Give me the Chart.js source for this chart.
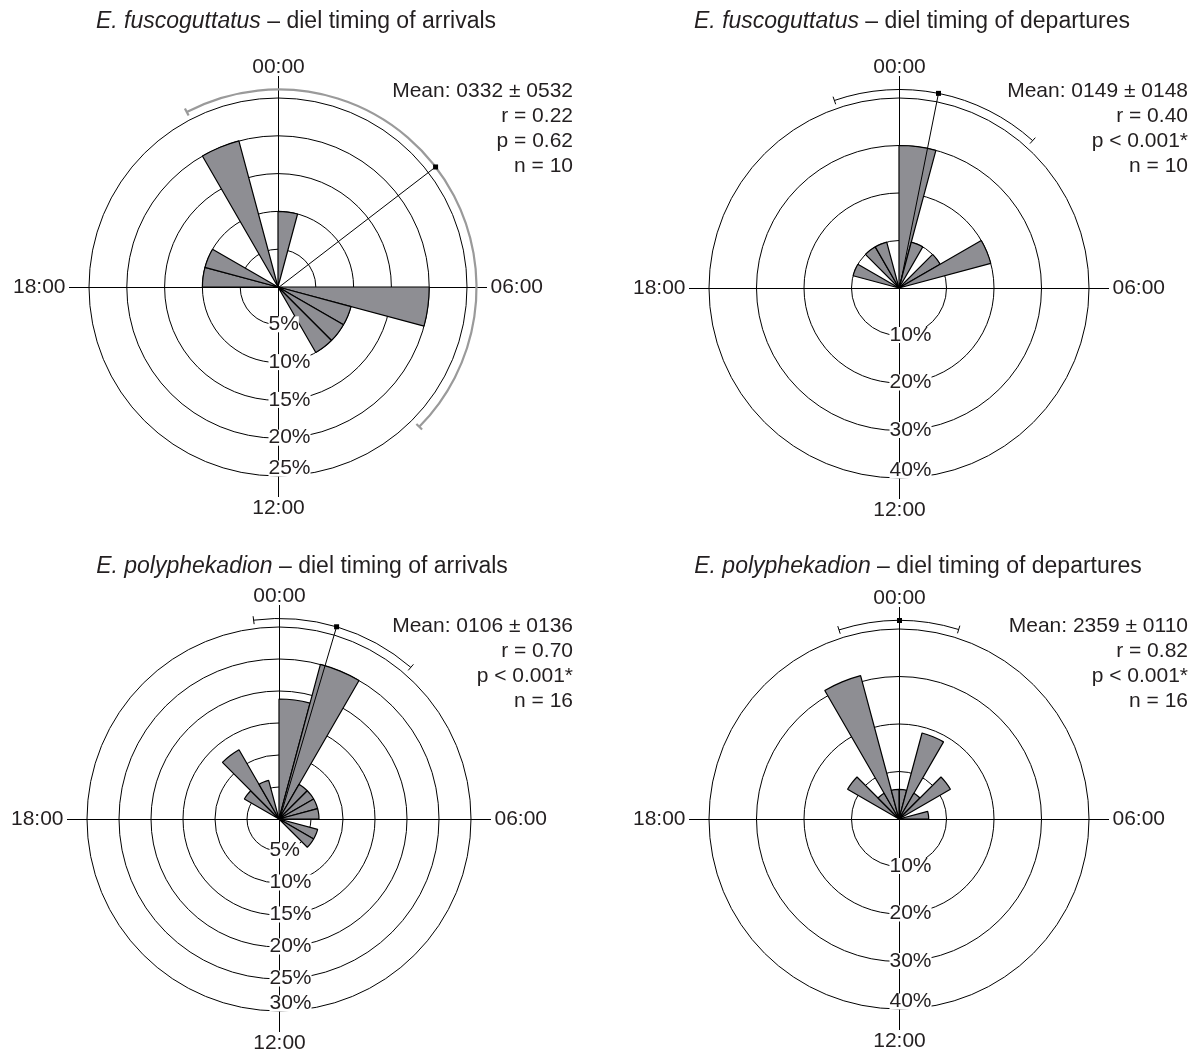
<!DOCTYPE html>
<html><head><meta charset="utf-8">
<script src="https://cdn.jsdelivr.net/npm/chart.js@4.4.1/dist/chart.umd.min.js"></script>
<style>
html,body{margin:0;padding:0;background:#fff;}
#wrap{position:relative;width:1195px;height:1052px;overflow:hidden;font-family:"Liberation Sans",Arial,Helvetica,sans-serif;color:#231f20;}
canvas{position:absolute;}
.title{position:absolute;font-size:23px;white-space:nowrap;transform:translateX(-50%);line-height:23px;}
.stats{position:absolute;font-size:21px;text-align:right;white-space:nowrap;line-height:25.3px;}
</style></head><body><div id="wrap"></div>
<script>
// ---- data ----
const binLabels = ['00:00','01:00','02:00','03:00','04:00','05:00','06:00','07:00','08:00','09:00','10:00','11:00',
                   '12:00','13:00','14:00','15:00','16:00','17:00','18:00','19:00','20:00','21:00','22:00','23:00'];
const fuscoArrivals    = [10,0,0,0,0,0,20,10,10,10,0,0,0,0,0,0,0,0,10,10,0,0,20,0];
const fuscoDepartures  = [30,10,0,10,20,0,0,0,0,0,0,0,0,0,0,0,0,0,0,10,0,10,10,0];
const polyArrivals     = [18.75,25,6.25,6.25,6.25,6.25,0,6.25,6.25,0,0,0,0,0,0,0,0,0,0,0,6.25,12.5,6.25,0];
const polyDepartures   = [6.25,18.75,6.25,12.5,0,6.25,0,0,0,0,0,0,0,0,0,0,0,0,0,0,12.5,6.25,31.25,6.25];
const ringMax  = [25,40,30,40];
const ringStep = [5,10,5,10];
const meanDeg  = [52.5,11.3,16.5,0];      // mean direction, degrees clockwise from 00:00
const arcFrom  = [-27.6,-19.1,-7.4,-17.7]; // angular deviation arc
const arcTo    = [134.7,42.0,40.8,17.3];
const axisLabels = ['00:00','06:00','12:00','18:00'];
const titleSpecies = ['E. fuscoguttatus','E. fuscoguttatus','E. polyphekadion','E. polyphekadion'];
const titleRest = [' – diel timing of arrivals',' – diel timing of departures',' – diel timing of arrivals',' – diel timing of departures'];
const statMean = ['Mean: 0332 ± 0532','Mean: 0149 ± 0148','Mean: 0106 ± 0136','Mean: 2359 ± 0110'];
const statR = ['r = 0.22','r = 0.40','r = 0.70','r = 0.82'];
const statP = ['p = 0.62','p < 0.001*','p < 0.001*','p < 0.001*'];
const statN = ['n = 10','n = 10','n = 16','n = 16'];
const series = [fuscoArrivals, fuscoDepartures, polyArrivals, polyDepartures];

// ---- layout ----
const geom = [
  {x:0,   y:0,   w:597, h:530, cx:278, cy:287, R:189, tx:296, ty:9,   sRight:622, sTop:76.6},
  {x:597, y:0,   w:598, h:530, cx:899, cy:288, R:190, tx:912, ty:9,   sRight:7,   sTop:76.6},
  {x:0,   y:530, w:597, h:522, cx:279, cy:819, R:192, tx:302, ty:554, sRight:622, sTop:611.6},
  {x:597, y:530, w:598, h:522, cx:899, cy:819, R:190, tx:918, ty:554, sRight:7,   sTop:611.6}
];
const ink = '#231f20';
const barFill = '#8e8e93';
const FONT = '21px "Liberation Sans", Arial, sans-serif';
const wrap = document.getElementById('wrap');

function rad(d){ return (d - 90) * Math.PI / 180; }

function decor(i){
  return {
    id: 'decor' + i,
    beforeDatasetsDraw(chart){
      const s = chart.scales.r, ctx = chart.ctx;
      const cx = s.xCenter, cy = s.yCenter, R = s.drawingArea;
      ctx.save();
      ctx.strokeStyle = '#000'; ctx.lineWidth = 1;
      ctx.beginPath();
      ctx.moveTo(cx - R - 20, cy + 0.5); ctx.lineTo(cx + R + 20, cy + 0.5);
      ctx.moveTo(cx + 0.5, cy - R - 22); ctx.lineTo(cx + 0.5, cy + R + 21);
      ctx.stroke();
      ctx.restore();
    },
    afterDatasetsDraw(chart){
      const s = chart.scales.r, ctx = chart.ctx;
      const cx = s.xCenter + 0.5, cy = s.yCenter + 0.5;
      const R = s.getDistanceFromCenterForValue(s.max);
      const ar = R + 9;
      ctx.save();
      // mean vector
      ctx.strokeStyle = '#000'; ctx.lineWidth = 1;
      const ma = rad(meanDeg[i]);
      const mx = cx + ar * Math.cos(ma), my = cy + ar * Math.sin(ma);
      ctx.beginPath(); ctx.moveTo(cx, cy); ctx.lineTo(mx, my); ctx.stroke();
      // deviation arc
      ctx.strokeStyle = i === 0 ? '#9a9a9a' : '#000';
      ctx.lineWidth = i === 0 ? 2.2 : 1;
      ctx.beginPath(); ctx.arc(cx, cy, ar, rad(arcFrom[i]), rad(arcTo[i])); ctx.stroke();
      [arcFrom[i], arcTo[i]].forEach(d => {
        const a = rad(d);
        ctx.beginPath();
        ctx.moveTo(cx + (ar - 4) * Math.cos(a), cy + (ar - 4) * Math.sin(a));
        ctx.lineTo(cx + (ar + 4) * Math.cos(a), cy + (ar + 4) * Math.sin(a));
        ctx.stroke();
      });
      ctx.fillStyle = '#000';
      ctx.fillRect(mx - 2.5, my - 2.5, 5, 5);
      // ring labels
      ctx.font = FONT; ctx.textBaseline = 'middle'; ctx.textAlign = 'left';
      const ticks = s.ticks.filter(t => t.value > 0);
      ticks.forEach((t, k) => {
        const r = s.getDistanceFromCenterForValue(t.value);
        const txt = t.value + '%';
        const y = cy + r - (k === ticks.length - 1 ? 8 : 1);
        const x = cx - 10;
        const w = ctx.measureText(txt).width;
        ctx.fillStyle = '#fff';
        ctx.fillRect(x, y - 8, w, 16);
        ctx.fillStyle = ink;
        ctx.fillText(txt, x, y);
      });
      // hour labels
      ctx.fillStyle = ink;
      ctx.textAlign = 'center';
      ctx.fillText(axisLabels[0], cx, cy - R - 31);
      ctx.fillText(axisLabels[2], cx, cy + R + 32);
      ctx.textAlign = 'left';
      ctx.fillText(axisLabels[1], cx + R + 23, cy);
      ctx.textAlign = 'right';
      ctx.fillText(axisLabels[3], cx - R - 24, cy);
      ctx.restore();
    }
  };
}

function makePanel(i){
  const g = geom[i];
  const canvas = document.createElement('canvas');
  canvas.width = g.w; canvas.height = g.h;
  canvas.style.left = g.x + 'px'; canvas.style.top = g.y + 'px';
  wrap.appendChild(canvas);
  const R = g.R;
  const pad = {left: g.cx - R - g.x, top: g.cy - R - g.y,
               right: g.x + g.w - (g.cx + R), bottom: g.y + g.h - (g.cy + R)};
  new Chart(canvas, {
    type: 'polarArea',
    data: {labels: binLabels, datasets: [{
      data: series[i], backgroundColor: barFill, borderColor: '#000',
      borderWidth: c => (c.raw > 0 ? 1.2 : 0)
    }]},
    options: {
      responsive: false, animation: false, events: [],
      layout: {padding: pad},
      plugins: {legend: {display: false}, tooltip: {enabled: false}, title: {display: false}},
      scales: {r: {
        min: 0, max: ringMax[i], startAngle: 0,
        ticks: {display: false, stepSize: ringStep[i]},
        grid: {color: '#000', lineWidth: 1, circular: true},
        angleLines: {display: false},
        pointLabels: {display: false}
      }}
    },
    plugins: [decor(i)]
  });
  const t = document.createElement('div');
  t.className = 'title';
  t.style.left = g.tx + 'px'; t.style.top = g.ty + 'px';
  const it = document.createElement('i'); it.textContent = titleSpecies[i];
  t.appendChild(it); t.appendChild(document.createTextNode(titleRest[i]));
  wrap.appendChild(t);
  const st = document.createElement('div');
  st.className = 'stats';
  st.style.right = g.sRight + 'px'; st.style.top = g.sTop + 'px';
  [statMean[i], statR[i], statP[i], statN[i]].forEach(line => {
    const d = document.createElement('div'); d.textContent = line; st.appendChild(d);
  });
  wrap.appendChild(st);
}
for (let i = 0; i < 4; i++) makePanel(i);
</script></body></html>
